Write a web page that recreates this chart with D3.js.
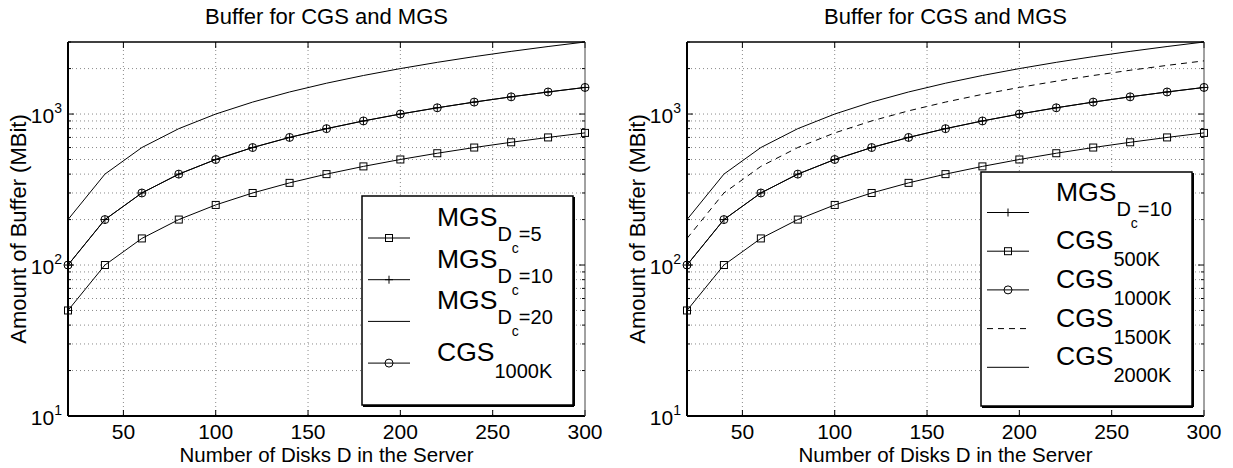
<!DOCTYPE html>
<html>
<head>
<meta charset="utf-8">
<script src="https://cdn.jsdelivr.net/npm/d3@7"></script>
<style>
  body { margin: 0; background: #fff; }
  svg { font-family: "Liberation Sans", Arial, sans-serif; }
</style>
</head>
<body>
<div id="chart"></div>
<script>
// data
const disks = [20, 40, 60, 80, 100, 120, 140, 160, 180, 200, 220, 240, 260, 280, 300];
const mgsDc5 = [50, 100, 150, 200, 250, 300, 350, 400, 450, 500, 550, 600, 650, 700, 750];
const mgsDc10 = [100, 200, 300, 400, 500, 600, 700, 800, 900, 1000, 1100, 1200, 1300, 1400, 1500];
const mgsDc20 = [200, 400, 600, 800, 1000, 1200, 1400, 1600, 1800, 2000, 2200, 2400, 2600, 2800, 3000];
const cgs500K = [50, 100, 150, 200, 250, 300, 350, 400, 450, 500, 550, 600, 650, 700, 750];
const cgs1000K = [100, 200, 300, 400, 500, 600, 700, 800, 900, 1000, 1100, 1200, 1300, 1400, 1500];
const cgs1500K = [150, 300, 450, 600, 750, 900, 1050, 1200, 1350, 1500, 1650, 1800, 1950, 2100, 2250];
const cgs2000K = [200, 400, 600, 800, 1000, 1200, 1400, 1600, 1800, 2000, 2200, 2400, 2600, 2800, 3000];

const xTicks = [50, 100, 150, 200, 250, 300];
const yMajor = [10, 100, 1000];
const yExp = ["1", "2", "3"];
const yMinor = [20, 30, 40, 50, 60, 70, 80, 90, 200, 300, 400, 500, 600, 700, 800, 900, 2000, 3000];
const chartTitle = "Buffer for CGS and MGS";
const xLabel = "Number of Disks D in the Server";
const yLabel = "Amount of Buffer (MBit)";

const svg = d3.select("#chart").append("svg")
    .attr("width", 1233)
    .attr("height", 468);

function drawPanel(left, right, series, legend) {
    const top = 42, bottom = 416;
    const g = svg.append("g");
    const x = d3.scaleLinear().domain([20, 300]).range([left, right]);
    const y = d3.scaleLog().domain([10, 3000]).range([bottom, top]);

    // grid
    const grid = g.append("g").attr("stroke", "#8a8a8a").attr("stroke-width", 1)
        .attr("stroke-dasharray", "1,3");
    xTicks.slice(0, -1).forEach(t => {
        grid.append("line").attr("x1", x(t)).attr("x2", x(t))
            .attr("y1", top).attr("y2", bottom);
    });
    yMajor.concat(yMinor).forEach(t => {
        if (t >= 3000 || t <= 10) return;
        grid.append("line").attr("x1", left).attr("x2", right)
            .attr("y1", y(t)).attr("y2", y(t));
    });

    // tick marks (inward)
    const tk = g.append("g").attr("stroke", "#000").attr("stroke-width", 1);
    xTicks.forEach(t => {
        tk.append("line").attr("x1", x(t)).attr("x2", x(t)).attr("y1", bottom).attr("y2", bottom - 6);
        tk.append("line").attr("x1", x(t)).attr("x2", x(t)).attr("y1", top).attr("y2", top + 6);
    });
    yMajor.forEach(t => {
        tk.append("line").attr("x1", left).attr("x2", left + 6).attr("y1", y(t)).attr("y2", y(t));
        tk.append("line").attr("x1", right).attr("x2", right - 6).attr("y1", y(t)).attr("y2", y(t));
    });
    yMinor.forEach(t => {
        tk.append("line").attr("x1", left).attr("x2", left + 3).attr("y1", y(t)).attr("y2", y(t));
        tk.append("line").attr("x1", right).attr("x2", right - 3).attr("y1", y(t)).attr("y2", y(t));
    });

    // frame
    g.append("line").attr("x1", left).attr("x2", right).attr("y1", bottom).attr("y2", bottom)
        .attr("stroke", "#000").attr("stroke-width", 2);
    g.append("line").attr("x1", left).attr("x2", left).attr("y1", top).attr("y2", bottom)
        .attr("stroke", "#000").attr("stroke-width", 2);
    g.append("line").attr("x1", left).attr("x2", right).attr("y1", top).attr("y2", top)
        .attr("stroke", "#000").attr("stroke-width", 1.5);
    g.append("line").attr("x1", right).attr("x2", right).attr("y1", top).attr("y2", bottom)
        .attr("stroke", "#444").attr("stroke-width", 1);

    // tick labels
    xTicks.forEach(t => {
        g.append("text").attr("x", x(t)).attr("y", 439)
            .attr("text-anchor", "middle").attr("font-size", 21).text(t);
    });
    yMajor.forEach((t, i) => {
        const lab = g.append("text").attr("x", left - 6).attr("y", y(t) + 9)
            .attr("text-anchor", "end").attr("font-size", 21);
        lab.append("tspan").text("10");
        lab.append("tspan").attr("dy", -10).attr("font-size", 14).text(yExp[i]);
    });

    // titles
    g.append("text").attr("x", (left + right) / 2).attr("y", 24)
        .attr("text-anchor", "middle").attr("font-size", 22).text(chartTitle);
    g.append("text").attr("x", (left + right) / 2).attr("y", 462)
        .attr("text-anchor", "middle").attr("font-size", 20.5).text(xLabel);
    g.append("text").attr("transform", "translate(" + (left - 42) + "," + ((top + bottom) / 2) + ") rotate(-90)")
        .attr("text-anchor", "middle").attr("font-size", 22).text(yLabel);

    // lines
    const line = d3.line().x(d => x(d[0])).y(d => y(d[1]));
    series.forEach(s => {
        const pts = disks.map((d, i) => [d, s.values[i]]);
        g.append("path").datum(pts)
            .attr("fill", "none").attr("stroke", "#000").attr("stroke-width", 1)
            .attr("stroke-dasharray", s.dash || null)
            .attr("d", line);
        if (s.marker) {
            pts.forEach(p => drawMarker(g, s.marker, x(p[0]), y(p[1])));
        }
    });

    // legend
    const lb = legend.box;
    g.append("rect").attr("x", lb[0]).attr("y", lb[1]).attr("width", lb[2]).attr("height", lb[3])
        .attr("fill", "#fff").attr("stroke", "#000").attr("stroke-width", 1.5);
    g.append("line").attr("x1", lb[0] + 1).attr("x2", lb[0] + lb[2] + 1)
        .attr("y1", lb[1] + lb[3] + 1).attr("y2", lb[1] + lb[3] + 1)
        .attr("stroke", "#000").attr("stroke-width", 2);
    g.append("line").attr("x1", lb[0] + lb[2] + 1).attr("x2", lb[0] + lb[2] + 1)
        .attr("y1", lb[1] + 1).attr("y2", lb[1] + lb[3] + 1)
        .attr("stroke", "#000").attr("stroke-width", 2);

    legend.items.forEach((it, i) => {
        const ly = legend.y0 + i * legend.step;
        const sx = lb[0] + 6;
        g.append("line").attr("x1", sx).attr("x2", sx + 42).attr("y1", ly).attr("y2", ly)
            .attr("stroke", "#000").attr("stroke-width", 1)
            .attr("stroke-dasharray", it.dash || null);
        if (it.marker) drawMarker(g, it.marker, sx + 21, ly);
        const tx = sx + 69;
        if (it.dc) {
            const t = g.append("text").attr("x", tx).attr("y", ly - 12).attr("font-size", 26.5);
            t.append("tspan").text("MGS");
            t.append("tspan").attr("dy", 15).attr("font-size", 20).text("D");
            t.append("tspan").attr("dy", 12).attr("font-size", 14).text("c");
            t.append("tspan").attr("dy", -12).attr("font-size", 20).text(it.sub);
        } else {
            const t = g.append("text").attr("x", tx).attr("y", ly - 2).attr("font-size", 26.5);
            t.append("tspan").text("CGS");
            t.append("tspan").attr("dy", 17).attr("font-size", 20).text(it.sub);
        }
    });
}

function drawMarker(g, type, cx, cy) {
    if (type === "square") {
        g.append("rect").attr("x", cx - 3.5).attr("y", cy - 3.5).attr("width", 7).attr("height", 7)
            .attr("fill", "none").attr("stroke", "#000").attr("stroke-width", 1);
    } else if (type === "circle") {
        g.append("circle").attr("cx", cx).attr("cy", cy).attr("r", 4)
            .attr("fill", "none").attr("stroke", "#000").attr("stroke-width", 1);
    } else if (type === "plus") {
        g.append("path").attr("d", `M${cx - 4},${cy}H${cx + 4}M${cx},${cy - 4}V${cy + 4}`)
            .attr("stroke", "#000").attr("stroke-width", 1);
    }
}

drawPanel(68, 585, [
    { values: mgsDc5, marker: "square" },
    { values: mgsDc10, marker: "plus" },
    { values: mgsDc20 },
    { values: cgs1000K, marker: "circle" }
], {
    box: [362, 196, 211, 209],
    y0: 238, step: 41.7,
    items: [
        { dc: true, sub: "=5", marker: "square" },
        { dc: true, sub: "=10", marker: "plus" },
        { dc: true, sub: "=20" },
        { dc: false, sub: "1000K", marker: "circle" }
    ]
});

drawPanel(687, 1204, [
    { values: mgsDc10, marker: "plus" },
    { values: cgs500K, marker: "square" },
    { values: cgs1000K, marker: "circle" },
    { values: cgs1500K, dash: "6,5" },
    { values: cgs2000K }
], {
    box: [981, 172, 211, 234],
    y0: 212.5, step: 38.7,
    items: [
        { dc: true, sub: "=10", marker: "plus" },
        { dc: false, sub: "500K", marker: "square" },
        { dc: false, sub: "1000K", marker: "circle" },
        { dc: false, sub: "1500K", dash: "6,5" },
        { dc: false, sub: "2000K" }
    ]
});
</script>
</body>
</html>
